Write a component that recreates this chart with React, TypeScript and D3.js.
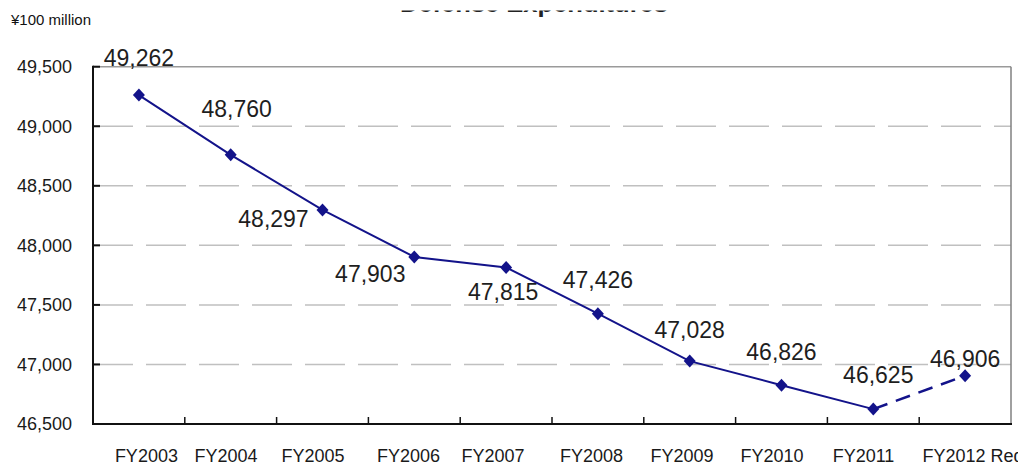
import React from "react";
import * as d3 from "d3";

const categories = ["FY2003", "FY2004", "FY2005", "FY2006", "FY2007", "FY2008", "FY2009", "FY2010", "FY2011", "FY2012 Request"];
const values = [49262, 48760, 48297, 47903, 47815, 47426, 47028, 46826, 46625, 46906];
const yTicks = [46500, 47000, 47500, 48000, 48500, 49000, 49500];
const title = "Defense Expenditures";
const unitLabel = "¥100 million";

// value-label placement offsets [dx, dy(baseline)] relative to each point
const labelOffsets: [number, number][] = [
  [0, -29], [6, -38], [-49, 17], [-44, 25], [-3, 33],
  [0, -26], [0, -23], [0, -25], [5, -26], [0, -9],
];
// category-label horizontal offsets relative to band centres
const catLabelDx = [7.5, -4.7, -9.5, -5.8, -13.1, -6.4, -7.7, -9.5, -9.8, 25];

const W = 1018, H = 466;
const M = { left: 93, right: 1011, top: 66.7, bottom: 424 };

export default function App() {
  const x = d3.scaleBand<string>().domain(categories).range([M.left, M.right]).padding(0);
  const y = d3.scaleLinear().domain([46500, 49500]).range([M.bottom, M.top]);
  const cx = (i: number) => (x(categories[i]) as number) + x.bandwidth() / 2;
  const pts = values.map((v, i) => [cx(i), y(v)] as [number, number]);
  const line = d3.line();
  const solidPath = line(pts.slice(0, 9)) as string;
  const dashedPath = line(pts.slice(8)) as string;
  const fmt = d3.format(",");
  const navy = "#13138a";
  const font = "'Liberation Sans', Arial, Helvetica, sans-serif";
  const diamond = "M0,-6.5L6,0L0,6.5L-6,0Z";

  return (
    <svg width={W} height={H} style={{ position: "absolute", left: 0, top: 0, background: "#fff" }} fontFamily={font}>
      <defs>
        <clipPath id="titleClip">
          <rect x={0} y={10.5} width={W} height={20} />
        </clipPath>
      </defs>
      <rect x={0} y={0} width={W} height={H} fill="#fff" />
      <text x={534} y={11.5} textAnchor="middle" fontSize={24} fontWeight="bold" fill="#222"
        textLength={268} lengthAdjust="spacingAndGlyphs" clipPath="url(#titleClip)">{title}</text>
      <text x={11} y={25} fontSize={15} fill="#111">{unitLabel}</text>

      {/* gridlines */}
      {yTicks.filter(t => t > 46500 && t < 49500).map(t => (
        <line key={t} x1={M.left} x2={M.right} y1={y(t)} y2={y(t)} stroke="#c0c0c0" strokeWidth={1.5} strokeDasharray="40,13" />
      ))}
      <line x1={M.left} x2={M.right} y1={y(49500)} y2={y(49500)} stroke="#9a9a9a" strokeWidth={1.5} />
      <line x1={M.right} x2={M.right} y1={M.top} y2={M.bottom} stroke="#808080" strokeWidth={1.5} />

      {/* axes */}
      <line x1={M.left} x2={M.left} y1={M.top - 1} y2={M.bottom + 1} stroke="#111" strokeWidth={2} />
      <line x1={M.left - 1} x2={M.right + 1} y1={M.bottom} y2={M.bottom} stroke="#111" strokeWidth={2} />
      {yTicks.map(t => (
        <g key={t}>
          <line x1={M.left} x2={M.left + 7} y1={y(t)} y2={y(t)} stroke="#111" strokeWidth={2} />
          <text x={72} y={y(t)} dy="0.35em" textAnchor="end" fontSize={18} fill="#1a1a1a">{fmt(t)}</text>
        </g>
      ))}
      {categories.map((c, i) => (
        <g key={c}>
          {i > 0 && (
            <line x1={x(c) as number} x2={x(c) as number} y1={M.bottom} y2={M.bottom - 7} stroke="#111" strokeWidth={1.5} />
          )}
          <text x={cx(i) + catLabelDx[i]} y={462} textAnchor="middle" fontSize={18} fill="#1a1a1a">{c}</text>
        </g>
      ))}

      {/* series */}
      <path d={solidPath} fill="none" stroke={navy} strokeWidth={2} />
      <path d={dashedPath} fill="none" stroke={navy} strokeWidth={2.5} strokeDasharray="15,9" />
      {pts.map(([px, py], i) => (
        <path key={i} d={diamond} transform={`translate(${px},${py})`} fill={navy} />
      ))}
      {pts.map(([px, py], i) => (
        <text key={"l" + i} x={px + labelOffsets[i][0]} y={py + labelOffsets[i][1]} textAnchor="middle"
          fontSize={23} fill="#1e1e1e">{fmt(values[i])}</text>
      ))}
    </svg>
  );
}
